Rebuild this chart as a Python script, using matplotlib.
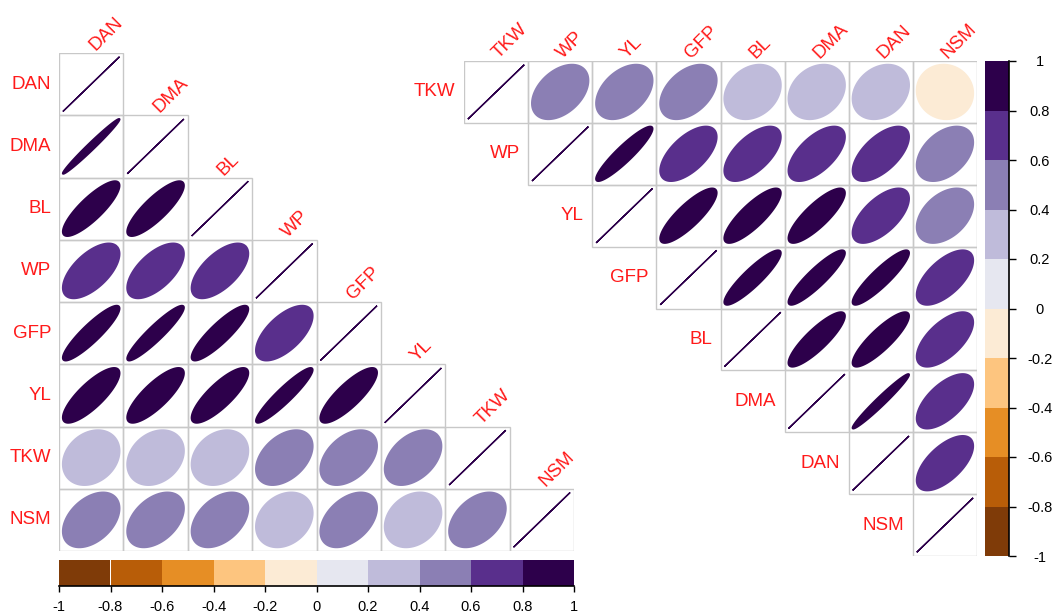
import numpy as np
import matplotlib.pyplot as plt
from matplotlib.patches import Polygon, Rectangle

plt.rcParams['font.family'] = ['Liberation Sans', 'DejaVu Sans']

# left panel: lower triangle, row by row (diagonal = 1)
left_vars = ['DAN', 'DMA', 'BL', 'WP', 'GFP', 'YL', 'TKW', 'NSM']
left_lower = [
    [],
    [0.985],
    [0.84, 0.84],
    [0.62, 0.62, 0.63],
    [0.90, 0.93, 0.88, 0.63],
    [0.81, 0.81, 0.82, 0.93, 0.83],
    [0.24, 0.25, 0.25, 0.42, 0.43, 0.42],
    [0.42, 0.42, 0.42, 0.25, 0.43, 0.25, 0.42],
]

# right panel: upper triangle, row by row (diagonal = 1)
right_vars = ['TKW', 'WP', 'YL', 'GFP', 'BL', 'DMA', 'DAN', 'NSM']
right_upper = [
    [0.42, 0.42, 0.43, 0.25, 0.25, 0.25, -0.05],
    [0.92, 0.62, 0.62, 0.62, 0.62, 0.42],
    [0.84, 0.83, 0.83, 0.63, 0.42],
    [0.90, 0.90, 0.90, 0.63],
    [0.86, 0.86, 0.63],
    [0.975, 0.63],
    [0.63],
    [],
]

cb_ticks = [-1, -0.8, -0.6, -0.4, -0.2, 0, 0.2, 0.4, 0.6, 0.8, 1]
cb_labels = ['-1', '-0.8', '-0.6', '-0.4', '-0.2', '0', '0.2', '0.4', '0.6', '0.8', '1']

# PuOr, 10 steps from -1 to 1
PAL = ['#7F3B08', '#B85D08', '#E68E25', '#FDC57F', '#FCEBD5',
       '#E6E7F0', '#BFBBDA', '#8B7FB4', '#592F8C', '#2D004B']
GRID = '#C8C8C8'
LAB = '#FF1A1A'
FS = 13.5

W, H = 1056, 613


def color_of(r):
    k = int(np.floor((r + 1) / 0.2))
    return PAL[min(max(k, 0), 9)]


def ellipse_xy(r, n=100, s=0.88):
    # same shape as corrplot's ellipse method
    k = np.linspace(0, 2 * np.pi, n)
    a = np.arccos(np.clip(r, -1, 1))
    return s * np.cos(k + a / 2) / 2, s * np.cos(k - a / 2) / 2


def draw_cell(ax, i, j, r):
    ax.add_patch(Rectangle((j, i), 1, 1, fill=False, ec=GRID, lw=1, zorder=1))
    ex, ey = ellipse_xy(r)
    c = color_of(r)
    ax.add_patch(Polygon(np.column_stack([j + 0.5 + ex, i + 0.5 - ey]), closed=True,
                         fc=c, ec=c, lw=1.4 if r < 1 else 1.0, zorder=2))


def px_axes(fig, x0, y0, x1, y1):
    return fig.add_axes([x0 / W, 1 - y1 / H, (x1 - x0) / W, (y1 - y0) / H])


fig = plt.figure(figsize=(W / 100, H / 100), dpi=100)

# ---- left, lower triangle
n = len(left_vars)
axL = px_axes(fig, 59, 53, 574, 551)
axL.set_xlim(0, n)
axL.set_ylim(n, 0)
axL.axis('off')
for i in range(n):
    for j in range(i + 1):
        r = 1.0 if i == j else left_lower[i][j]
        draw_cell(axL, i, j, r)
    axL.text(-0.12, i + 0.5, left_vars[i], ha='right', va='center', color=LAB, fontsize=FS)
    axL.text(i + 0.56, i - 0.03, left_vars[i], ha='left', va='baseline', rotation=45,
             rotation_mode='anchor', color=LAB, fontsize=FS, clip_on=False)

# ---- right, upper triangle
n = len(right_vars)
axR = px_axes(fig, 464, 61, 977, 556)
axR.set_xlim(0, n)
axR.set_ylim(n, 0)
axR.axis('off')
for i in range(n):
    for j in range(i, n):
        r = 1.0 if i == j else right_upper[i][j - i - 1]
        draw_cell(axR, i, j, r)
    axR.text(i - 0.13, i + 0.5, right_vars[i], ha='right', va='center', color=LAB, fontsize=FS)
    axR.text(i + 0.54, -0.03, right_vars[i], ha='left', va='baseline', rotation=45,
             rotation_mode='anchor', color=LAB, fontsize=FS, clip_on=False)

bounds = np.linspace(-1, 1, 11)

# ---- horizontal colour legend under the left panel
cbL = px_axes(fig, 59, 560, 574, 586)
for k in range(10):
    cbL.axvspan(bounds[k], bounds[k + 1], color=PAL[k], lw=0)
cbL.set_xlim(-1, 1)
cbL.set_ylim(0, 1)
for s in ['top', 'left', 'right']:
    cbL.spines[s].set_visible(False)
cbL.spines['bottom'].set_linewidth(1.2)
cbL.set_yticks([])
cbL.set_xticks(cb_ticks)
cbL.set_xticklabels(cb_labels)
cbL.tick_params(axis='x', length=4, width=1, pad=6, labelsize=10.5)

# ---- vertical colour legend right of the right panel
cbR = px_axes(fig, 985, 61, 1009, 556)
for k in range(10):
    cbR.axhspan(bounds[k], bounds[k + 1], color=PAL[k], lw=0)
cbR.set_ylim(-1, 1)
cbR.set_xlim(0, 1)
for s in ['top', 'left', 'bottom']:
    cbR.spines[s].set_visible(False)
cbR.spines['right'].set_linewidth(1.2)
cbR.set_xticks([])
cbR.yaxis.tick_right()
cbR.set_yticks(cb_ticks)
cbR.set_yticklabels(cb_labels, ha='center')
cbR.tick_params(axis='y', length=5, width=1, pad=17, labelsize=10.5)

fig.savefig('out.png', dpi=100)
